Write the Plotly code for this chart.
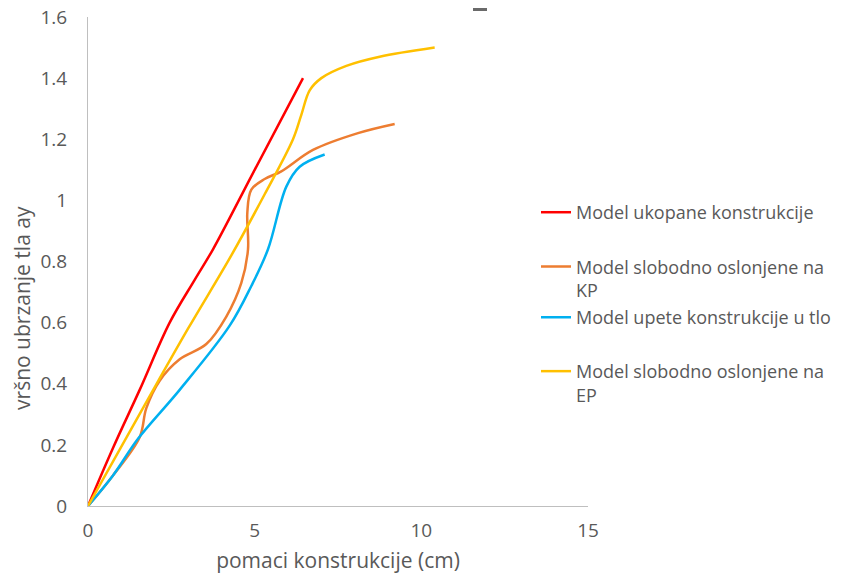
import plotly.graph_objects as go

names = ["Model ukopane konstrukcije",
         "Model slobodno oslonjene na<br>KP",
         "Model upete konstrukcije u tlo",
         "Model slobodno oslonjene na<br>EP"]
colors = ["#FF0000", "#ED7D31", "#00B0F0", "#FFC000"]

red_x = [0, 0.75, 1.55, 2.45, 3.2, 3.75, 5.0, 6.45]
red_y = [0, 0.19, 0.38, 0.6, 0.74, 0.84, 1.1, 1.4]

orange_x = [0, 0.75, 1.55, 1.75, 2.15, 2.75, 3.55, 4.15, 4.6, 4.8, 4.78, 4.9, 5.3, 5.8, 6.75, 8.1, 9.2]
orange_y = [0, 0.1, 0.225, 0.32, 0.41, 0.48, 0.53, 0.62, 0.73, 0.84, 0.96, 1.035, 1.07, 1.095, 1.165, 1.22, 1.25]

blue_x = [0, 0.75, 1.5, 2.75, 4.25, 4.9, 5.4, 5.95, 6.35, 7.1]
blue_y = [0, 0.1, 0.22, 0.38, 0.59, 0.72, 0.84, 1.045, 1.11, 1.15]

yellow_x = [0, 1.75, 3.0, 4.3, 5.3, 6.15, 6.4, 6.65, 7.0, 7.75, 8.75, 10.4]
yellow_y = [0, 0.34, 0.58, 0.82, 1.02, 1.2, 1.28, 1.36, 1.4, 1.44, 1.47, 1.5]

xs = [red_x, orange_x, blue_x, yellow_x]
ys = [red_y, orange_y, blue_y, yellow_y]

x_ticks = [0, 5, 10, 15]
y_ticks = [0, 0.2, 0.4, 0.6, 0.8, 1, 1.2, 1.4, 1.6]
y_tick_text = ["0", "0.2", "0.4", "0.6", "0.8", "1", "1.2", "1.4", "1.6"]

x_title = "pomaci konstrukcije (cm)"
y_title = "vršno ubrzanje tla ay"

legend_ids = ["legend", "legend2", "legend3", "legend4"]
legend_tops = [0.638, 0.527, 0.423, 0.313]

fig = go.Figure()
for i in range(4):
    fig.add_trace(go.Scatter(x=xs[i], y=ys[i], mode="lines", name=names[i],
                             legend=legend_ids[i],
                             line=dict(color=colors[i], width=2.5, shape="spline", smoothing=1.0)))

font = "Open Sans, Noto Sans, sans-serif"
grey = "#595959"
leg_common = dict(x=0.896, xanchor="left", yanchor="top",
                  font=dict(size=18, color=grey), valign="top",
                  bgcolor="rgba(0,0,0,0)")
layout_legends = {}
for lid, top in zip(legend_ids, legend_tops):
    layout_legends[lid] = dict(y=top, **leg_common)

fig.update_layout(
    width=840, height=569,
    margin=dict(l=80, r=260, t=9, b=71),
    paper_bgcolor="white", plot_bgcolor="white",
    font=dict(family=font, color=grey, size=19),
    showlegend=True,
    **layout_legends,
    xaxis=dict(range=[0, 15], tickvals=x_ticks, showgrid=False, zeroline=False,
               showline=True, linecolor="#BFBFBF", linewidth=1, ticks="",
               automargin=False, ticklabelstandoff=7, ticklabeloverflow="allow",
               tickfont=dict(size=19, color=grey),
               title=dict(text=x_title, font=dict(size=21, color=grey), standoff=11)),
    yaxis=dict(range=[0, 1.6], tickvals=y_ticks, ticktext=y_tick_text, showgrid=False, zeroline=False,
               showline=True, linecolor="#BFBFBF", linewidth=1, ticks="",
               automargin=False, ticklabelstandoff=16, ticklabeloverflow="allow",
               tickfont=dict(size=19, color=grey)),
    annotations=[dict(text=y_title, textangle=-90, xref="paper", yref="paper",
                      x=-0.131, y=0.404, xanchor="center", yanchor="middle", showarrow=False,
                      font=dict(size=21, color=grey))],
    shapes=[dict(type="line", xref="paper", yref="paper", x0=0.77, x1=0.798, y0=1.0153, y1=1.0153,
                 line=dict(color="#6a6a6a", width=3))],
)

fig.write_html("out.html")
